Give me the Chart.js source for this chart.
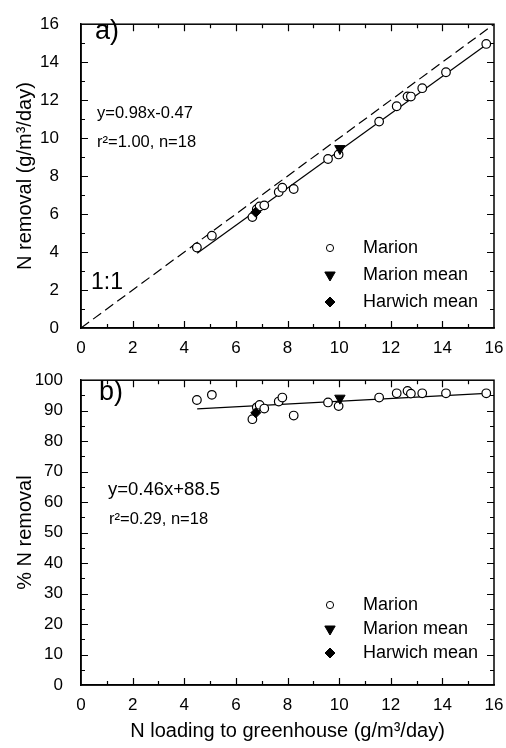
<!DOCTYPE html>
<html>
<head>
<meta charset="utf-8">
<script src="https://cdn.jsdelivr.net/npm/chart.js@4.4.0/dist/chart.umd.min.js"></script>
<style>
	html, body { margin: 0; padding: 0; background: #fff; }
	#wrapA { position: absolute; left: 0; top: 0; width: 506px; height: 360px; }
	#wrapB { position: absolute; left: 0; top: 360px; width: 506px; height: 388px; }
</style>
</head>
<body>
<div id="wrapA"><canvas class="graph-removal"></canvas></div>
<div id="wrapB"><canvas class="graph-percent"></canvas></div>
<script>
// valores
const marionLoading = [4.49, 5.07, 6.64, 6.81, 6.92, 7.10, 7.66, 7.80, 8.24, 9.57, 9.98, 11.55, 12.23, 12.65, 12.78, 13.22, 14.14, 15.70];
const marionRemoval = [4.24, 4.86, 5.84, 6.26, 6.40, 6.46, 7.16, 7.39, 7.32, 8.90, 9.14, 10.87, 11.68, 12.20, 12.19, 12.63, 13.47, 14.96];
const marionPercent = [93.5, 95.2, 87.2, 91.1, 91.9, 90.7, 93.0, 94.3, 88.4, 92.7, 91.5, 94.3, 95.7, 96.5, 95.6, 95.7, 95.7, 95.7];

const marionMeanLoading = [10.03];
const marionMeanRemoval = [9.45];
const marionMeanPercent = [94.1];

const harwichMeanLoading = [6.77];
const harwichMeanRemoval = [6.10];
const harwichMeanPercent = [89.3];

const fitLoading = [4.5, 15.7];
const fitRemovalA = [3.94, 14.92];
const fitPercentB = [90.6, 95.7];
const oneToOne = [0, 16];

const xTicks = [0, 16, 2];
const yTicksA = [0, 16, 2];
const yTicksB = [0, 100, 10];

const seriesNames = ['Marion', 'Marion mean', 'Harwich mean'];

const FONT = "'Liberation Sans', Arial, sans-serif";
Chart.defaults.font.family = FONT;
Chart.defaults.color = '#000';

function pts(xs, ys) {
	return xs.map((x, i) => ({ x: x, y: ys[i] }));
}

// moldura + marcas internas nos quatro lados
function frameTicks(t) {
	return {
		id: 'frameTicks',
		afterDraw(chart) {
			const ctx = chart.ctx;
			const a = chart.chartArea;
			const sx = chart.scales.x, sy = chart.scales.y;
			ctx.save();
			ctx.strokeStyle = '#000';
			ctx.lineWidth = 1.2;
			ctx.beginPath();
			for (let v = t.x0 + t.xMinor; v < t.x1; v += t.xMinor) {
				const px = Math.round(sx.getPixelForValue(v)) + 0.5;
				const len = Math.abs(v % t.xMajor) < 1e-6 ? 7 : 4;
				ctx.moveTo(px, a.bottom); ctx.lineTo(px, a.bottom - len);
				ctx.moveTo(px, a.top); ctx.lineTo(px, a.top + len);
			}
			for (let v = t.y0 + t.yMinor; v < t.y1; v += t.yMinor) {
				const py = Math.round(sy.getPixelForValue(v)) + 0.5;
				const len = Math.abs(v % t.yMajor) < 1e-6 ? 7 : 4;
				ctx.moveTo(a.left, py); ctx.lineTo(a.left + len, py);
				ctx.moveTo(a.right, py); ctx.lineTo(a.right - len, py);
			}
			ctx.stroke();
			ctx.lineWidth = 1.5;
			ctx.strokeRect(a.left, a.top, a.right - a.left, a.bottom - a.top);
			ctx.restore();
		}
	};
}

// textos e legenda dentro do painel
function notes(n) {
	return {
		id: 'notes',
		afterDraw(chart) {
			const ctx = chart.ctx;
			ctx.save();
			ctx.fillStyle = '#000';
			ctx.textBaseline = 'middle';
			ctx.textAlign = 'left';
			n.texts.forEach(t => {
				ctx.font = t.size + 'px ' + FONT;
				ctx.fillText(t.text, t.x, t.y);
			});
			const ds = chart.data.datasets;
			const lg = n.legend;
			lg.rows.forEach((row, i) => {
				const d = ds.find(s => s.label === row);
				const y = lg.y + i * lg.gap;
				ctx.fillStyle = d.pointBackgroundColor;
				ctx.strokeStyle = '#000';
				Chart.helpers.drawPoint(ctx, {
					pointStyle: d.pointStyle,
					rotation: d.pointRotation || 0,
					radius: lg.radius[i],
					borderWidth: 1.2
				}, lg.x, y);
				ctx.fillStyle = '#000';
				ctx.font = lg.size + 'px ' + FONT;
				ctx.fillText(row, lg.x + 33, y);
			});
			ctx.restore();
		}
	};
}

function painel(ctx, cfg) {
	const datasets = [
		{ label: 'Harwich mean', data: pts(harwichMeanLoading, cfg.harwich), pointStyle: 'rectRot', pointRadius: 5, pointBackgroundColor: '#000', pointBorderColor: '#000', pointBorderWidth: 1 },
		{ label: 'Marion mean', data: pts(marionMeanLoading, cfg.marionMean), pointStyle: 'triangle', pointRotation: 180, pointRadius: 6, pointBackgroundColor: '#000', pointBorderColor: '#000', pointBorderWidth: 1 },
		{ label: 'Marion', data: pts(marionLoading, cfg.marion), pointStyle: 'circle', pointRadius: 4.3, pointBackgroundColor: '#fff', pointBorderColor: '#000', pointBorderWidth: 1.2 },
		{ label: 'fit', data: pts(fitLoading, cfg.fit), showLine: true, pointRadius: 0, borderColor: '#000', borderWidth: 1.2 }
	];
	if (cfg.diagonal) {
		datasets.push({ label: '1:1', data: pts(oneToOne, oneToOne), showLine: true, pointRadius: 0, borderColor: '#000', borderWidth: 1.2, borderDash: [10, 5] });
	}

	return new Chart(ctx, {
		type: 'scatter',
		data: { datasets: datasets },
		options: {
			responsive: true,
			maintainAspectRatio: false,
			animation: false,
			layout: { padding: { top: 12, right: 12, left: 0, bottom: 0 } },
			plugins: {
				legend: { display: false },
				tooltip: { enabled: false }
			},
			scales: {
				x: {
					type: 'linear',
					min: xTicks[0], max: xTicks[1],
					grid: { display: false },
					border: { display: true, color: '#000', width: 1.5 },
					ticks: { stepSize: xTicks[2], autoSkip: false, maxRotation: 0, padding: 2, font: { size: 17 } },
					title: { display: !!cfg.xTitle, text: cfg.xTitle, font: { size: 20 }, padding: { top: 0, bottom: 5 } },
					afterFit: s => { s.height = cfg.xHeight; }
				},
				y: {
					type: 'linear',
					min: cfg.yTicks[0], max: cfg.yTicks[1],
					grid: { display: false },
					border: { display: true, color: '#000', width: 1.5 },
					ticks: { stepSize: cfg.yTicks[2], autoSkip: false, padding: cfg.yPad, font: { size: 17 } },
					title: { display: true, text: cfg.yTitle, font: { size: 20 }, padding: { top: 13, bottom: 0 } },
					afterFit: s => { s.width = 81; }
				}
			}
		},
		plugins: [frameTicks(cfg.ticks), notes(cfg.notes)]
	});
}

graficoRemocao();
graficoPercentual();

function graficoRemocao() {
	const ctx = document.getElementsByClassName('graph-removal');
	painel(ctx, {
		marion: marionRemoval,
		marionMean: marionMeanRemoval,
		harwich: harwichMeanRemoval,
		fit: fitRemovalA,
		diagonal: true,
		yTicks: yTicksA,
		yPad: 14,
		yTitle: 'N removal (g/m³/day)',
		xTitle: '',
		xHeight: 32,
		ticks: { x0: 0, x1: 16, xMajor: 2, xMinor: 1, y0: 0, y1: 16, yMajor: 2, yMinor: 1 },
		notes: {
			texts: [
				{ text: 'a)', x: 95, y: 32, size: 27 },
				{ text: 'y=0.98x-0.47', x: 97, y: 113, size: 16.5 },
				{ text: 'r²=1.00, n=18', x: 97, y: 142, size: 16.5 },
				{ text: '1:1', x: 91, y: 283, size: 23 }
			],
			legend: { rows: seriesNames, x: 330, y: 248, gap: 27, size: 18, radius: [3.6, 6, 5] }
		}
	});
}

function graficoPercentual() {
	const ctx = document.getElementsByClassName('graph-percent');
	painel(ctx, {
		marion: marionPercent,
		marionMean: marionMeanPercent,
		harwich: harwichMeanPercent,
		fit: fitPercentB,
		diagonal: false,
		yTicks: yTicksB,
		yPad: 10,
		yTitle: '% N removal',
		xTitle: 'N loading to greenhouse (g/m³/day)',
		xHeight: 63,
		ticks: { x0: 0, x1: 16, xMajor: 2, xMinor: 1, y0: 0, y1: 100, yMajor: 10, yMinor: 5 },
		notes: {
			texts: [
				{ text: 'b)', x: 99, y: 33, size: 27 },
				{ text: 'y=0.46x+88.5', x: 108, y: 130, size: 18.5 },
				{ text: 'r²=0.29, n=18', x: 109, y: 159, size: 16.5 }
			],
			legend: { rows: seriesNames, x: 330, y: 245, gap: 24, size: 18, radius: [3.6, 6, 5] }
		}
	});
}
</script>
</body>
</html>
